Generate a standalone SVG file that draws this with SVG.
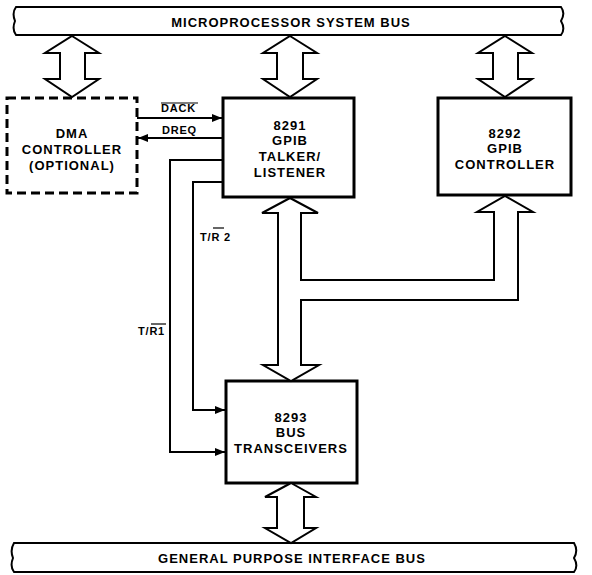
<svg xmlns="http://www.w3.org/2000/svg" width="592" height="575" viewBox="0 0 592 575">
<style>
.bus{fill:#fff;stroke:#000;stroke-width:2}
.box{fill:#fff;stroke:#000;stroke-width:3}
.dbox{fill:#fff;stroke:#000;stroke-width:3;stroke-dasharray:9 5}
.dar{fill:#fff;stroke:#000;stroke-width:2;stroke-linejoin:miter}
.ln{fill:none;stroke:#000;stroke-width:2}
.t{font-family:"Liberation Sans",Arial,sans-serif;font-weight:bold;font-size:13px;letter-spacing:1px;text-anchor:middle;fill:#000}
.s{font-family:"Liberation Sans",Arial,sans-serif;font-weight:bold;font-size:11px;letter-spacing:0.8px;fill:#000}
.ov{stroke:#000;stroke-width:1.2}
</style>
<defs>
<marker id="ah" markerWidth="10" markerHeight="8" refX="10" refY="4" orient="auto" markerUnits="userSpaceOnUse">
<path d="M0,0 L10,4 L0,8 Z" fill="#000"/>
</marker>
</defs>

<g id="sysbus">
<path class="bus" d="M16,7 H561 C564,11 564,16 561,21 C564,26 564,31 561,35 H16 C13,31 13,26 15,21 C13,16 13,11 16,7 Z"/>
<text class="t" x="291" y="27">MICROPROCESSOR SYSTEM BUS</text>
</g>

<g id="gpibbus">
<path class="bus" d="M14,543 H574 C577,548 577,553 574,558 C577,563 577,568 574,572 H14 C11,568 11,563 13,558 C11,553 11,548 14,543 Z"/>
<text class="t" x="292" y="563">GENERAL PURPOSE INTERFACE BUS</text>
</g>

<g id="dma">
<rect class="dbox" x="7" y="98" width="130" height="95"/>
<text class="t" x="72" y="138">DMA</text>
<text class="t" x="72" y="154">CONTROLLER</text>
<text class="t" x="72" y="170">(OPTIONAL)</text>
</g>

<g id="n8291">
<rect class="box" x="223" y="98" width="131" height="99"/>
<text class="t" x="290" y="130">8291</text>
<text class="t" x="290" y="145">GPIB</text>
<text class="t" x="290" y="161">TALKER/</text>
<text class="t" x="290" y="177">LISTENER</text>
</g>

<g id="n8292">
<rect class="box" x="438" y="98" width="133" height="97"/>
<text class="t" x="505" y="138">8292</text>
<text class="t" x="505" y="153">GPIB</text>
<text class="t" x="505" y="169">CONTROLLER</text>
</g>

<g id="n8293">
<rect class="box" x="226" y="381" width="131" height="102"/>
<text class="t" x="291" y="422">8293</text>
<text class="t" x="291" y="437">BUS</text>
<text class="t" x="291" y="453">TRANSCEIVERS</text>
</g>

<g id="connectors">
<polygon class="dar" points="72,36 99,53 85,53 85,79 99,79 72,97 45,79 60,79 60,53 45,53"/>
<polygon class="dar" points="290,36 317,53 303,53 303,79 317,79 290,97 263,79 277,79 277,53 263,53"/>
<polygon class="dar" points="505,36 532,53 518,53 518,79 532,79 505,97 478,79 493,79 493,53 478,53"/>
<polygon class="dar" points="291,483 316,497 304,497 304,528 316,528 291,543 265,528 277,528 277,497 265,497"/>
<polygon class="dar" points="290,198 318,213 301,213 301,280 494,280 494,212 477,212 505,196 533,212 518,212 518,300 301,300 301,365 319,365 291,381 263,365 278,365 278,213 262,213"/>

<line class="ln" x1="137" y1="118" x2="222" y2="118" marker-end="url(#ah)"/>
<line class="ln" x1="223" y1="138" x2="138" y2="138" marker-end="url(#ah)"/>
<text class="s" x="161" y="112">DACK</text>
<line class="ov" x1="161" y1="103" x2="198" y2="103"/>
<text class="s" x="162" y="134">DREQ</text>

<polyline class="ln" points="223,182 193,182 193,410 225,410" marker-end="url(#ah)"/>
<polyline class="ln" points="223,160 170,160 170,452 225,452" marker-end="url(#ah)"/>
<text class="s" x="200" y="241">T/R 2</text>
<line class="ov" x1="213" y1="228" x2="224" y2="228"/>
<text class="s" x="138" y="335">T/R1</text>
<line class="ov" x1="151" y1="324" x2="166" y2="324"/>
</g>
</svg>
